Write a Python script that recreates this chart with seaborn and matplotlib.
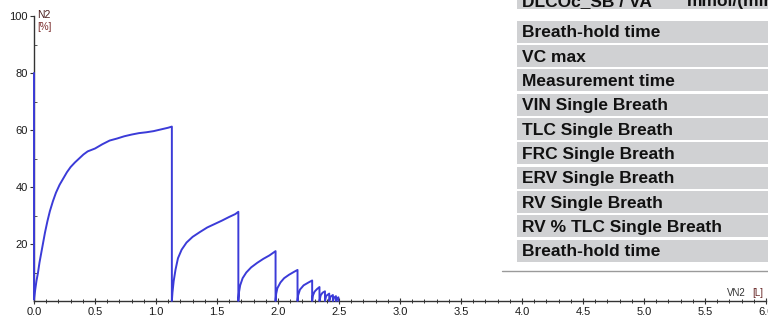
import numpy as np
import pandas as pd
import seaborn as sns
import matplotlib.pyplot as plt
from matplotlib.patches import Rectangle
from matplotlib.lines import Line2D
from matplotlib.ticker import MultipleLocator, FormatStrFormatter

# Multiple-breath N2 washout trace: expired volume VN2 [L] vs N2 concentration [%]
vn2 = [
    0.0, 0.0, 0.01, 0.02, 0.033, 0.045, 0.06, 0.075, 0.09, 0.11, 0.13, 0.155, 0.18, 0.21,
    0.24, 0.27, 0.30, 0.335, 0.37, 0.405, 0.44, 0.50,
    0.56, 0.62, 0.68, 0.74, 0.80, 0.86, 0.92, 0.98, 1.04, 1.10, 1.13,
    1.13, 1.135, 1.145, 1.16, 1.18, 1.21, 1.25, 1.30, 1.36, 1.42, 1.48, 1.54, 1.60, 1.65, 1.675,
    1.675, 1.68, 1.69, 1.71, 1.74, 1.78, 1.83, 1.88, 1.93, 1.98,
    1.98, 1.985, 1.995, 2.02, 2.05, 2.09, 2.13, 2.16,
    2.16, 2.165, 2.18, 2.21, 2.25, 2.28,
    2.28, 2.285, 2.30, 2.32, 2.34,
    2.34, 2.35, 2.365, 2.385,
    2.385, 2.395, 2.42,
    2.42, 2.43, 2.45,
    2.45, 2.46, 2.475,
    2.475, 2.485, 2.495, 2.495,
]
n2 = [
    80.0, 0.5, 4.0, 7.0, 10.0, 13.5, 17.0, 20.5, 24.0, 28.0, 31.5, 35.0, 38.0, 40.8,
    43.0, 45.2, 47.0, 48.6, 50.0, 51.4, 52.5, 53.5,
    55.0, 56.3, 57.0, 57.8, 58.4, 58.9, 59.2, 59.6, 60.2, 60.8, 61.2,
    0.0, 3.0, 7.0, 11.0, 15.0, 18.0, 20.5, 22.5, 24.2, 25.8, 27.0, 28.2, 29.5, 30.5, 31.3,
    0.0, 3.0, 5.5, 8.0, 10.0, 11.8, 13.4, 14.8, 16.0, 17.5,
    0.0, 2.5, 4.5, 6.5, 8.0, 9.2, 10.2, 10.9,
    0.0, 2.0, 4.0, 5.5, 6.5, 7.2,
    0.0, 1.8, 3.3, 4.2, 4.9,
    0.0, 2.0, 2.9, 3.4,
    0.0, 1.8, 2.6,
    0.0, 1.5, 2.1,
    0.0, 1.2, 1.7,
    0.0, 1.0, 1.3, 0.0,
]

x_ticks = [0.0, 0.5, 1.0, 1.5, 2.0, 2.5, 3.0, 3.5, 4.0, 4.5, 5.0, 5.5, 6.0]
y_ticks = [20, 40, 60, 80, 100]

header_left = "DLCOc_SB / VA"
header_unit = "mmol/(min*kPa*L)"
row_labels = [
    "Breath-hold time",
    "VC max",
    "Measurement time",
    "VIN Single Breath",
    "TLC Single Breath",
    "FRC Single Breath",
    "ERV Single Breath",
    "RV Single Breath",
    "RV % TLC Single Breath",
    "Breath-hold time",
]

W, H = 768, 320
sns.set_style("ticks")
plt.rcParams["font.family"] = ["Liberation Sans", "DejaVu Sans"]

fig = plt.figure(figsize=(W / 100, H / 100), dpi=100)
ax = fig.add_axes([34 / W, 19 / H, 732 / W, 285 / H])

df = pd.DataFrame({"VN2": vn2, "N2": n2})
sns.lineplot(data=df, x="VN2", y="N2", sort=False, estimator=None,
             color="#3b3bd8", lw=1.4, ax=ax)
for ln in ax.lines:
    ln.set_clip_on(False)
    ln.set_zorder(5)

ax.set_xlim(0, 6.0)
ax.set_ylim(0, 100)
ax.set_xlabel("")
ax.set_ylabel("")
for s in ("top", "right"):
    ax.spines[s].set_visible(False)
for s in ("left", "bottom"):
    ax.spines[s].set_color("#333333")
    ax.spines[s].set_linewidth(1.0)

ax.set_xticks(x_ticks)
ax.xaxis.set_major_formatter(FormatStrFormatter("%.1f"))
ax.xaxis.set_minor_locator(MultipleLocator(0.1))
ax.set_yticks(y_ticks)
ax.yaxis.set_minor_locator(MultipleLocator(10))
ax.tick_params(axis="x", which="major", direction="inout", length=5, width=0.8,
               color="#333333", labelsize=8, pad=1.5, labelcolor="#1a1a1a")
ax.tick_params(axis="x", which="minor", direction="inout", length=3, width=0.7,
               color="#333333")
ax.tick_params(axis="y", which="major", direction="out", length=3, width=0.8,
               color="#333333", labelsize=8, pad=1.5, labelcolor="#1a1a1a")
ax.tick_params(axis="y", which="minor", direction="in", length=2, width=0.7,
               color="#555555")


def fx(x):
    return x / W


def fy(y):
    return 1 - y / H


# axis unit labels
fig.text(fx(37), fy(15.5), "N2", fontsize=7.5, color="#4a1e1e", va="center", ha="left")
fig.text(fx(37), fy(27), "[%]", fontsize=7, color="#7a2c2c", va="center", ha="left")
fig.text(fx(727), fy(293.5), "VN2", fontsize=7, color="#333333", va="center", ha="left")
fig.text(fx(752), fy(293.5), "[L]", fontsize=7, color="#6a2a2a", va="center", ha="left")

# parameter table on the right
gray = "#d0d1d3"
x0 = 516.5
fig.patches.append(Rectangle((fx(x0), fy(8.5)), fx(W - x0), 8.5 / H,
                             transform=fig.transFigure, facecolor=gray,
                             edgecolor="none", zorder=1))
fig.text(fx(521.5), fy(6), header_left, fontsize=12.5, fontweight="bold",
         color="#111111", va="baseline", ha="left", zorder=2)
fig.text(fx(686.5), fy(6), header_unit, fontsize=12.5, fontweight="bold",
         color="#111111", va="baseline", ha="left", zorder=2)

pitch = 24.35
for i, label in enumerate(row_labels):
    top = 20.5 + pitch * i
    fig.patches.append(Rectangle((fx(x0), fy(top + 22)), fx(W - x0), 22 / H,
                                 transform=fig.transFigure, facecolor=gray,
                                 edgecolor="none", zorder=1))
    fig.text(fx(521.5), fy(top + 16.7), label, fontsize=12.5, fontweight="bold",
             color="#111111", va="baseline", ha="left", zorder=2)

fig.add_artist(Line2D([fx(502), fx(W)], [fy(270.7), fy(270.7)],
                      transform=fig.transFigure, color="#9a9a9a", lw=1.0))

fig.savefig("out.png", dpi=100)
